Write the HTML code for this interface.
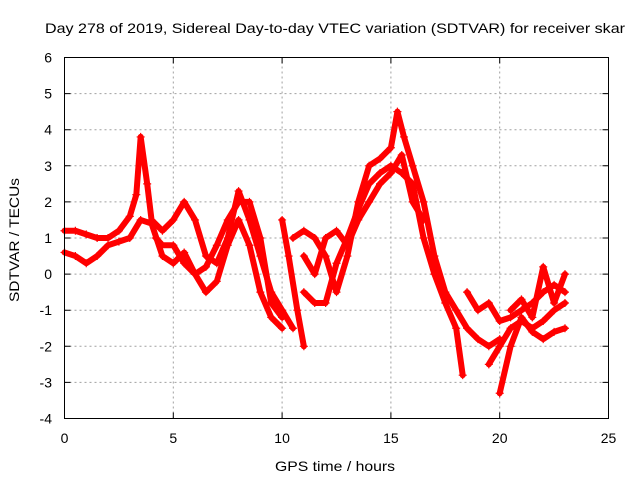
<!DOCTYPE html>
<html><head><meta charset="utf-8"><style>
body{margin:0;background:#fff}
svg text{font-family:"Liberation Sans",sans-serif;font-size:14px;fill:#000}
</style></head><body>
<svg id="chart" width="640" height="480" viewBox="0 0 640 480">
<text x="335" y="33" text-anchor="middle" textLength="580" lengthAdjust="spacingAndGlyphs">Day 278 of 2019, Sidereal Day-to-day VTEC variation (SDTVAR) for receiver skar</text>
<text x="335" y="471" text-anchor="middle" textLength="120" lengthAdjust="spacingAndGlyphs">GPS time / hours</text>
<text transform="translate(19,240) rotate(-90)" text-anchor="middle" textLength="124" lengthAdjust="spacingAndGlyphs">SDTVAR / TECUs</text>
<g id="grid"></g><g id="ticks"></g><g id="series"></g>
<rect x="64.5" y="57.5" width="544" height="361" fill="none" stroke="#000" stroke-width="1"/>
</svg>
<script>
const xTicks=[0,5,10,15,20,25];
const yTicks=[-4,-3,-2,-1,0,1,2,3,4,5,6];
const trackA=[[0,1.2],[0.5,1.2],[1,1.1],[1.5,1.0],[2,1.0],[2.5,1.2],[3,1.6],[3.3,2.2],[3.5,3.8],[3.8,2.5],[4,1.5],[4.5,1.2],[5,1.5],[5.5,2.0],[6,1.5],[6.5,0.5],[7,0.3],[7.5,1.0],[8,2.3],[8.5,1.5],[9,0.5],[9.5,-0.5],[10,-1.0],[10.5,-1.5]];
const trackB=[[0,0.6],[0.5,0.5],[1,0.3],[1.5,0.5],[2,0.8],[2.5,0.9],[3,1.0],[3.5,1.5],[4,1.4],[4.5,0.5],[5,0.3],[5.5,0.6],[6,0.0],[6.5,-0.5],[7,-0.2],[7.5,0.8],[8,1.5],[8.5,0.8],[9,-0.5],[9.5,-1.2],[10,-1.5]];
const trackC=[[4.2,1.0],[4.5,0.8],[5,0.8],[5.5,0.3],[6,0.0],[6.5,0.2],[7,0.8],[7.5,1.5],[8,2.0],[8.5,2.0],[9,1.0],[9.5,-0.8],[10,-1.2]];
const trackD=[[10,1.5],[10.3,0.5],[10.7,-1.0],[11,-2.0]];
const trackE=[[10.5,1.0],[11,1.2],[11.5,1.0],[12,0.5],[12.5,-0.5],[13,0.5],[13.5,2.0],[14,3.0],[14.5,3.2],[15,3.5],[15.3,4.5],[15.6,3.8],[16,3.0],[16.5,2.0],[17,0.5],[17.5,-0.5],[18,-1.0],[18.5,-1.5],[19,-1.8],[19.5,-2.0],[20,-1.8]];
const trackF=[[11,-0.5],[11.5,-0.8],[12,-0.8],[12.5,0.3],[13,1.0],[13.5,1.8],[14,2.5],[14.5,2.8],[15,3.0],[15.5,2.8],[16,2.5],[16.5,1.0],[17,0.0],[17.5,-0.8],[18,-1.5],[18.3,-2.8]];
const trackG=[[11,0.5],[11.5,0.0],[12,1.0],[12.5,1.2],[13,0.8],[13.5,1.5],[14,2.0],[14.5,2.5],[15,2.8],[15.5,3.3],[16,2.0],[16.5,1.5]];
const trackH=[[18.5,-0.5],[19,-1.0],[19.5,-0.8],[20,-1.3],[20.5,-1.2],[21,-1.0],[21.5,-0.8],[22,-0.5],[22.5,-0.3],[23,-0.5]];
const trackI=[[19.5,-2.5],[20,-2.0],[20.5,-1.5],[21,-1.3],[21.5,-1.5],[22,-1.3],[22.5,-1.0],[23,-0.8]];
const trackJ=[[20,-3.3],[20.5,-2.0],[21,-1.2],[21.5,-1.6],[22,-1.8],[22.5,-1.6],[23,-1.5]];
const trackK=[[20.5,-1.0],[21,-0.7],[21.5,-1.2],[22,0.2],[22.5,-0.8],[23,0.0]];
const tracks=[trackA,trackB,trackC,trackD,trackE,trackF,trackG,trackH,trackI,trackJ,trackK];

const NS='http://www.w3.org/2000/svg';
const X0=64.5,X1=608.5,Y0=418.5,Y1=57.5;
const xs=v=>X0+(v-0)/(25-0)*(X1-X0);
const ys=v=>Y0-(v+4)/(6+4)*(Y0-Y1);
function mk(t,a){const e=document.createElementNS(NS,t);for(const k in a)e.setAttribute(k,a[k]);return e;}
const grid=document.getElementById('grid'),ticks=document.getElementById('ticks'),ser=document.getElementById('series');
xTicks.forEach(t=>{
  const x=xs(t);
  if(t>0&&t<25){const g=mk('line',{x1:x,x2:x,y1:Y0,y2:Y1,stroke:'#a0a0a0','stroke-dasharray':'2,3'});
  
  grid.appendChild(g);}
  const tk=mk('path',{d:`M${x},${Y0}v-6M${x},${Y1}v6`,stroke:'#000'});
  
  ticks.appendChild(tk);
  const l=mk('text',{x:x,y:443,'text-anchor':'middle'});l.textContent=t;
  
  ticks.appendChild(l);
});
yTicks.forEach(t=>{
  const y=ys(t);
  if(t>-4&&t<6){const g=mk('line',{x1:X0,x2:X1,y1:y,y2:y,stroke:'#a0a0a0','stroke-dasharray':'2,3'});
  
  grid.appendChild(g);}
  const tk=mk('path',{d:`M${X0},${y}h6M${X1},${y}h-6`,stroke:'#000'});
  
  ticks.appendChild(tk);
  const l=mk('text',{x:52,y:y+5,'text-anchor':'end'});l.textContent=t;
  
  ticks.appendChild(l);
});
tracks.forEach((tr,i)=>{
  const pl=mk('polyline',{points:tr.map(p=>xs(p[0])+','+ys(p[1])).join(' '),fill:'none',stroke:'#ff0000','stroke-width':6,'stroke-linejoin':'round','stroke-linecap':'round'});
  
  
  ser.appendChild(pl);
  tr.forEach(p=>{
    const m=mk('path',{d:`M${xs(p[0])-4},${ys(p[1])}h8M${xs(p[0])},${ys(p[1])-4}v8`,stroke:'#ff0000','stroke-width':1.2});
    
    
    ser.appendChild(m);
  });
});
</script>
</body></html>
